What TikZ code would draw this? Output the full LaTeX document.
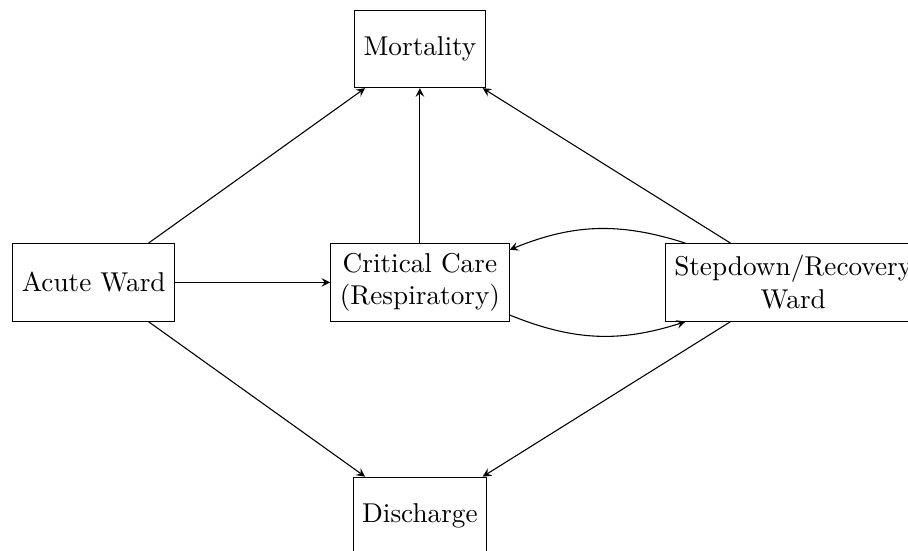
\documentclass[tikz,border=0pt]{standalone}
\usepackage{amsmath}
\usepackage{tikz}
\usetikzlibrary{positioning,arrows}

\begin{document}
\begin{tikzpicture}[>=stealth,node distance=2cm,auto,
  ward/.style={draw,rectangle,minimum height=1cm,align=center}]
\useasboundingbox (-5.42,-3.455) rectangle (6.30,3.645);
\node[ward] (cc) {Critical Care\\(Respiratory)};
\node[ward] (acute) [left=of cc] {Acute Ward};
\node[ward] (sd) [right=of cc] {Stepdown/Recovery\\Ward};
\node[ward] (mort) [above=of cc] {Mortality};
\node[ward] (dis) [below=of cc] {Discharge};
\path[->]
(acute) edge (mort)
        edge (cc)
        edge (dis)
(cc) edge (mort)
     edge [bend right=20] (sd)
(sd) edge (mort)
     edge [bend right=20] (cc)
     edge (dis);
\end{tikzpicture}
\end{document}
